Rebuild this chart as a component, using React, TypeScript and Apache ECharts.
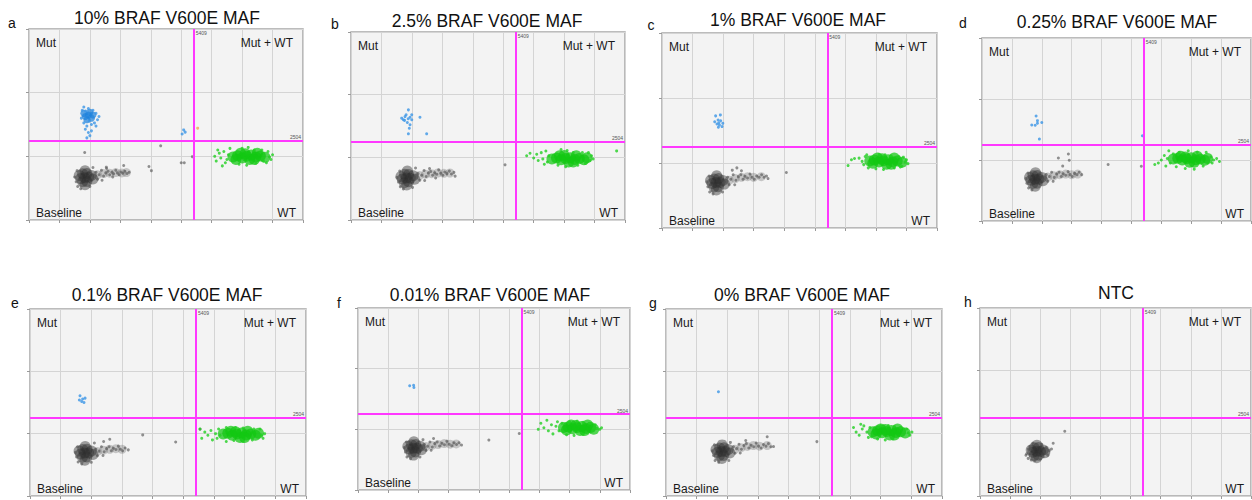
import React, { useEffect, useRef } from "react";
import * as echarts from "echarts";

// ---- axis scale ----
const X_MAX = 9000;
const X_STEP = 1000;
const Y_MAX = 6000;
const Y_STEP = 2000;
const WT_THRESHOLD = 5409; // vertical line (x)
const MUT_THRESHOLD = 2504; // horizontal line (y)

const titles = [
  "10% BRAF V600E MAF",
  "2.5% BRAF V600E MAF",
  "1% BRAF V600E MAF",
  "0.25% BRAF V600E MAF",
  "0.1% BRAF V600E MAF",
  "0.01% BRAF V600E MAF",
  "0% BRAF V600E MAF",
  "NTC",
];
const letters = ["a", "b", "c", "d", "e", "f", "g", "h"];
const quadrantLabels = ["Mut", "Mut + WT", "Baseline", "WT"];

// ---- panel a ----
const aBaseCore = [[1700,1300],[1830,1330],[1960,1340],[1760,1450],[1900,1460],[1760,1200],[1900,1210],[2050,1400],[1650,1400],[1840,1110],[1840,1550],[2100,1290]];
const aBaseTail = [[2250,1420],[2450,1460],[2650,1470],[2850,1490],[3050,1480],[3200,1490]];
const aBaseSpread = [[2200,1500],[2300,1420],[2380,1560],[2450,1380],[2520,1480],[2600,1530],[2650,1420],[2720,1500],[2780,1450],[2850,1560],[2900,1480],[2960,1420],[3020,1510],[3080,1470],[3150,1530],[3220,1460],[3290,1500],[2250,1280],[2400,1250],[1550,1200],[1600,1050],[1700,980],[1500,1350],[1580,1550],[2100,1650],[2000,1050],[2550,1620],[2750,1350],[4325,2330],[1830,2120],[3110,1710],[3940,1680],[4020,1550],[5000,1800],[5100,1800],[5365,1990],[2540,1660]];
const aWtCore = [[6700,1980],[6850,2020],[7000,1950],[7150,2000],[7300,2040],[7450,1980],[7600,2010],[7750,1970],[6950,2100],[7250,1900],[7500,2100],[7100,2080],[7400,1900],[6800,1900]];
const aWtSpread = [[6100,2000],[6150,1850],[6250,2100],[6300,1950],[6400,2150],[6450,1800],[6550,2050],[6600,2250],[6500,1900],[7900,1980],[8000,2050],[7950,1900],[7850,2150],[7800,1800],[7000,2250],[7200,2280],[7400,2200],[6900,1750],[7150,1720],[7450,1780],[7650,2200],[6350,1700],[6200,2200],[7700,1850]];
const aMutCore = [[1850,3250],[1950,3300],[2050,3200],[1900,3150],[2000,3380],[1800,3350],[2100,3300]];
const aMutSpread = [[1750,3450],[1800,3550],[1950,3500],[2100,3450],[2200,3350],[2250,3150],[2150,3050],[2050,3000],[1900,2950],[1800,3050],[1850,2850],[1950,2750],[2000,2650],[1900,2580],[2050,2800],[1720,3200],[2300,3250],[2200,2950],[1980,3100],[1860,3420],[5030,2700],[5080,2830],[5130,2760]];
const aOther = [[5540,2885]];

// ---- panel b ----
const bBaseCore = [[1690,1310],[1820,1340],[1950,1330],[1760,1460],[1890,1450],[1750,1190],[1890,1220],[2040,1410],[1640,1390],[1830,1120],[1850,1560],[2090,1300]];
const bBaseTail = [[2250,1420],[2450,1460],[2650,1480],[2850,1500],[3050,1490],[3250,1500]];
const bBaseSpread = [[2200,1480],[2320,1430],[2400,1580],[2470,1390],[2540,1500],[2620,1550],[2680,1430],[2750,1510],[2820,1460],[2880,1600],[2950,1490],[3020,1430],[3080,1530],[3150,1480],[3230,1560],[3300,1470],[3380,1520],[3420,1400],[2260,1270],[2420,1260],[1560,1210],[1620,1060],[1720,990],[1510,1360],[1600,1560],[2120,1660],[2020,1040],[2580,1640],[2780,1340],[5060,1760]];
const bWtCore = [[6600,1950],[6750,1980],[6900,1920],[7050,1960],[7200,1990],[7350,1930],[7500,1960],[7650,1920],[6850,2050],[7150,1850],[7400,2050],[7000,2060],[7300,1850],[7750,1990]];
const bWtSpread = [[5770,2050],[5880,2130],[6000,1980],[6100,2100],[6150,1900],[6250,2150],[6300,1950],[6400,2200],[6450,1850],[6500,2050],[7850,1900],[7900,2050],[7950,1950],[7800,2150],[6900,2250],[7100,2220],[7300,2150],[6800,1750],[7050,1700],[7450,1750],[7600,2150],[6350,1780],[7700,1800],[8725,2205]];
const bMutSpread = [[1885,3515],[1665,3250],[1775,3300],[1940,3280],[1995,3200],[1850,3110],[1940,3040],[1915,2930],[1885,2750],[2265,3280],[2485,2750],[1720,3200],[1810,3360],[1995,3360],[1880,3230],[1760,3180]];

// ---- panel c ----
const cBaseCore = [[1640,1370],[1770,1400],[1900,1400],[1710,1510],[1850,1520],[1700,1260],[1840,1270],[1990,1460],[1590,1460],[1780,1170],[1790,1610],[2040,1350]];
const cBaseTail = [[2200,1470],[2400,1520],[2600,1560],[2800,1580],[3000,1560],[3250,1580]];
const cBaseSpread = [[2150,1560],[2250,1500],[2330,1640],[2420,1470],[2500,1580],[2580,1640],[2650,1500],[2720,1590],[2800,1540],[2880,1660],[2950,1560],[3020,1500],[3100,1600],[3180,1560],[3260,1640],[3340,1560],[3420,1600],[3470,1520],[2200,1330],[2380,1330],[1500,1270],[1560,1110],[1670,1050],[1470,1420],[1540,1600],[2300,1780],[2450,1850],[2600,1760],[1980,1110],[4070,1710]];
const cWtCore = [[6800,2060],[6950,2090],[7100,2030],[7250,2070],[7400,2100],[7550,2040],[7700,2060],[7850,2020],[7050,2150],[7350,1960],[7600,2150],[7200,2130],[7500,1960],[6900,1990]];
const cWtSpread = [[6090,1920],[6200,2100],[6300,2140],[6450,2150],[6550,2050],[6650,2200],[6600,1950],[6700,2250],[7950,2030],[8050,1980],[8000,2100],[7900,2180],[7800,1880],[7100,2270],[7300,2250],[7500,2220],[7000,1820],[7250,1800],[7600,1850],[7750,2200],[6750,1850],[7850,1900]];
const cMutSpread = [[1755,3450],[1910,3480],[1835,3325],[1800,3200],[1880,3170],[1990,3220],[1965,3120],[1845,3100],[1725,3270],[1920,3300],[1860,3240]];

// ---- panel d ----
const dBaseCore = [[1640,1340],[1770,1370],[1900,1370],[1710,1480],[1850,1490],[1700,1230],[1840,1240],[1990,1430],[1590,1430],[1780,1140],[1790,1580],[2040,1320]];
const dBaseTail = [[2200,1440],[2400,1480],[2600,1520],[2800,1540],[3000,1520],[3200,1540]];
const dBaseSpread = [[2150,1520],[2250,1460],[2330,1600],[2420,1430],[2500,1540],[2580,1600],[2650,1460],[2720,1550],[2800,1500],[2880,1620],[2950,1520],[3020,1460],[3100,1560],[3180,1520],[3250,1600],[3335,1520],[2200,1300],[2380,1300],[1500,1240],[1560,1080],[1670,1020],[1470,1390],[1540,1570],[2555,2065],[2890,2195],[2920,1990],[2700,1800],[4220,1850],[5330,1795]];
const dWtCore = [[6400,2030],[6550,2060],[6700,2000],[6850,2040],[7000,2070],[7150,2010],[7300,2030],[7450,1990],[6650,2120],[6950,1930],[7200,2120],[6800,2100],[7100,1930],[7550,2050]];
const dWtSpread = [[5780,1850],[5900,1900],[6000,2000],[6100,2150],[6150,1800],[6200,2050],[6250,2300],[6300,1900],[7650,2100],[7750,2000],[7700,1900],[7850,2050],[7945,1950],[6600,2250],[6900,2300],[7200,2250],[6500,1780],[6800,1720],[7100,1700],[7400,1800],[7500,2250],[6400,2200]];
const dMutSpread = [[1810,3445],[1665,3150],[1780,3140],[1855,3205],[2000,3230],[1920,2685],[1855,3290],[5365,2795]];

// ---- panel e ----
const eBaseCore = [[1650,1350],[1780,1380],[1910,1380],[1720,1490],[1860,1500],[1710,1240],[1850,1250],[2000,1440],[1600,1440],[1790,1150],[1800,1590],[2050,1330]];
const eBaseTail = [[2200,1430],[2400,1470],[2600,1500],[2800,1520],[3000,1500]];
const eBaseSpread = [[2150,1500],[2250,1440],[2330,1580],[2420,1420],[2500,1520],[2580,1580],[2650,1450],[2720,1530],[2800,1490],[2880,1600],[2950,1500],[3020,1450],[3100,1540],[3205,1480],[2200,1290],[2380,1300],[1520,1250],[1570,1090],[1690,1030],[1480,1400],[1550,1580],[2100,1700],[2400,1750],[2600,1820],[2000,1080],[3675,1960],[4750,1735],[5545,2145]];
const eWtCore = [[6300,1990],[6450,2010],[6600,1950],[6750,1990],[6900,2020],[7050,1960],[7200,1990],[7350,1950],[6550,2080],[6850,1880],[7100,2080],[6700,2060],[7000,1880],[7450,2010]];
const eWtSpread = [[5545,2150],[5600,1850],[5700,2050],[5800,1950],[5900,2100],[5950,1800],[6050,2000],[6150,2150],[6100,1850],[7550,1950],[7650,2000],[7600,1850],[7500,2150],[6400,2200],[6700,2200],[6950,2180],[6400,1750],[6650,1780],[6950,1750],[7250,1800],[7300,2150],[6200,1950]];
const eMutSpread = [[1630,3215],[1717,3110],[1760,3000],[1685,3030],[1795,3140],[1610,3080]];

// ---- panel f ----
const fBaseCore = [[1700,1350],[1830,1380],[1960,1380],[1770,1490],[1910,1500],[1760,1240],[1900,1250],[2050,1440],[1650,1440],[1840,1150],[1850,1590],[2100,1330]];
const fBaseTail = [[2250,1430],[2450,1470],[2650,1500],[2850,1530],[3050,1510],[3250,1520]];
const fBaseSpread = [[2200,1500],[2300,1440],[2380,1580],[2460,1420],[2540,1530],[2620,1580],[2700,1450],[2780,1540],[2860,1490],[2940,1610],[3020,1510],[3100,1460],[3180,1560],[3260,1500],[3340,1560],[3425,1480],[2250,1300],[2420,1310],[1570,1250],[1620,1090],[1740,1030],[1530,1400],[1600,1580],[2150,1660],[2500,1700],[2050,1090],[4330,1645],[5335,1865]];
const fWtCore = [[6800,2060],[6950,2080],[7100,2020],[7250,2060],[7400,2090],[7550,2030],[7700,2060],[7800,2000],[7050,2140],[7350,1960],[7600,2140],[7200,2130],[7500,1960],[6900,1980]];
const fWtSpread = [[5965,2000],[6050,2200],[6150,2050],[6250,2300],[6300,1950],[6400,2150],[6450,1850],[6550,2100],[6600,2250],[6650,1950],[7900,2030],[8000,2000],[8060,2050],[7850,2150],[7000,2250],[7250,2270],[7450,2230],[6900,1820],[7150,1800],[7450,1830],[7650,2200],[6750,2200]];
const fMutSpread = [[1710,3435],[1840,3455],[1850,3380]];

// ---- panel g ----
const gBaseCore = [[1680,1400],[1810,1430],[1940,1430],[1750,1540],[1890,1550],[1740,1290],[1880,1300],[2030,1490],[1630,1490],[1820,1200],[1830,1640],[2080,1380]];
const gBaseTail = [[2250,1500],[2450,1550],[2650,1590],[2850,1620],[3050,1600],[3300,1620]];
const gBaseSpread = [[2200,1580],[2300,1520],[2380,1660],[2460,1500],[2540,1620],[2620,1680],[2700,1540],[2780,1630],[2860,1580],[2940,1700],[3020,1600],[3100,1540],[3180,1650],[3260,1600],[3340,1680],[3420,1580],[3505,1585],[2250,1370],[2420,1380],[1550,1300],[1600,1140],[1720,1080],[1510,1450],[1580,1640],[2100,1720],[2600,1780],[2050,1140],[3300,1900],[4920,1745]];
const gWtCore = [[6750,2060],[6900,2090],[7050,2030],[7200,2070],[7350,2100],[7500,2040],[7650,2060],[7800,2020],[7000,2150],[7300,1960],[7550,2150],[7150,2130],[7450,1960],[6850,1990]];
const gWtSpread = [[6115,2200],[6200,2050],[6300,1950],[6400,2150],[6450,2250],[6550,2050],[6600,1880],[6650,2200],[7900,2030],[8020,2050],[7950,1950],[7850,2150],[7000,2250],[7250,2260],[7450,2230],[6900,1830],[7150,1800],[7400,1830],[7650,2200],[6700,1900],[6350,2300]];
const gMutSpread = [[1710,3345]];

// ---- panel h (NTC) ----
const hBaseCore = [[1750,1400],[1880,1430],[2010,1420],[1800,1540],[1940,1550],[1800,1290],[1940,1300],[2100,1470],[1700,1470],[1880,1220],[1890,1620],[2150,1380]];
const hBaseTail = [[2200,1450]];
const hBaseSpread = [[1550,1350],[1600,1200],[1650,1580],[1700,1150],[2200,1550],[2250,1300],[2300,1450],[2375,1500],[2050,1650],[2100,1250],[1600,1500],[1750,1680],[1820,1130],[2000,1180],[2430,1685],[2815,2065],[1525,1300]];

const panelData = [
  { baseCore: aBaseCore, baseTail: aBaseTail, baseSpread: aBaseSpread, wtCore: aWtCore, wtSpread: aWtSpread, mutCore: aMutCore, mutSpread: aMutSpread, other: aOther },
  { baseCore: bBaseCore, baseTail: bBaseTail, baseSpread: bBaseSpread, wtCore: bWtCore, wtSpread: bWtSpread, mutCore: [], mutSpread: bMutSpread, other: [] },
  { baseCore: cBaseCore, baseTail: cBaseTail, baseSpread: cBaseSpread, wtCore: cWtCore, wtSpread: cWtSpread, mutCore: [], mutSpread: cMutSpread, other: [] },
  { baseCore: dBaseCore, baseTail: dBaseTail, baseSpread: dBaseSpread, wtCore: dWtCore, wtSpread: dWtSpread, mutCore: [], mutSpread: dMutSpread, other: [] },
  { baseCore: eBaseCore, baseTail: eBaseTail, baseSpread: eBaseSpread, wtCore: eWtCore, wtSpread: eWtSpread, mutCore: [], mutSpread: eMutSpread, other: [] },
  { baseCore: fBaseCore, baseTail: fBaseTail, baseSpread: fBaseSpread, wtCore: fWtCore, wtSpread: fWtSpread, mutCore: [], mutSpread: fMutSpread, other: [] },
  { baseCore: gBaseCore, baseTail: gBaseTail, baseSpread: gBaseSpread, wtCore: gWtCore, wtSpread: gWtSpread, mutCore: [], mutSpread: gMutSpread, other: [] },
  { baseCore: hBaseCore, baseTail: hBaseTail, baseSpread: hBaseSpread, wtCore: [], wtSpread: [], mutCore: [], mutSpread: [], other: [] },
];

// ---- layout (pixels) ----
const layout = [
  { left: 29, top: 29, width: 274, height: 191, tx: 167, ty: 18, lx: 12, ly: 23 },
  { left: 351, top: 32, width: 274, height: 188, tx: 487, ty: 21, lx: 335, ly: 24 },
  { left: 662, top: 33, width: 275, height: 195, tx: 798, ty: 20, lx: 651, ly: 25 },
  { left: 982, top: 38, width: 269, height: 183, tx: 1117, ty: 22, lx: 963, ly: 23 },
  { left: 30, top: 309, width: 276, height: 187, tx: 167, ty: 295, lx: 15, ly: 303 },
  { left: 358, top: 308, width: 272, height: 182, tx: 490, ty: 295, lx: 339, ly: 303 },
  { left: 666, top: 309, width: 276, height: 187, tx: 802, ty: 295, lx: 653, ly: 303 },
  { left: 980, top: 308, width: 271, height: 188, tx: 1116, ty: 293, lx: 968, ly: 302 },
];

const FONT = "Liberation Sans, Arial, sans-serif";

export default function App() {
  const ref = useRef<HTMLDivElement>(null);
  useEffect(() => {
    if (!ref.current) return;
    const chart = echarts.init(ref.current, null, { renderer: "svg" });
    const grids: any[] = [];
    const xAxes: any[] = [];
    const yAxes: any[] = [];
    const series: any[] = [];
    layout.forEach((g, i) => {
      grids.push({
        left: g.left, top: g.top, width: g.width, height: g.height,
        show: true, backgroundColor: "#f3f3f3", borderColor: "#a6a6a6", borderWidth: 1.5,
      });
      const axisCommon = {
        gridIndex: i,
        type: "value",
        axisLine: { show: false },
        axisLabel: { show: false },
        axisTick: { show: true, length: 3, lineStyle: { color: "#9a9a9a", width: 1 } },
        splitLine: { show: true, lineStyle: { color: "#d4d4d4", width: 1 } },
      };
      xAxes.push({ ...axisCommon, min: 0, max: X_MAX, interval: X_STEP });
      yAxes.push({ ...axisCommon, min: 0, max: Y_MAX, interval: Y_STEP });
      const d = panelData[i];
      const base = { type: "scatter", xAxisIndex: i, yAxisIndex: i, silent: true };
      series.push({ ...base, name: `baselineTail${i}`, data: d.baseTail, symbolSize: 9, itemStyle: { color: "rgba(95,95,95,0.38)" }, z: 2 });
      series.push({ ...base, name: `baselineCore${i}`, data: d.baseCore, symbolSize: 11, itemStyle: { color: "rgba(45,45,45,0.55)" }, z: 2 });
      series.push({ ...base, name: `baseline${i}`, data: d.baseSpread, symbolSize: 3, itemStyle: { color: "rgba(85,85,85,0.8)" }, z: 2 });
      series.push({ ...base, name: `wtCore${i}`, data: d.wtCore, symbolSize: 11, itemStyle: { color: "rgba(18,200,18,0.9)" }, z: 2 });
      series.push({ ...base, name: `wt${i}`, data: d.wtSpread, symbolSize: 3, itemStyle: { color: "#22d022" }, z: 2 });
      series.push({ ...base, name: `mutCore${i}`, data: d.mutCore, symbolSize: 7, itemStyle: { color: "rgba(30,130,220,0.9)" }, z: 2 });
      series.push({ ...base, name: `mut${i}`, data: d.mutSpread, symbolSize: 3, itemStyle: { color: "#3a95e6" }, z: 2 });
      series.push({ ...base, name: `other${i}`, data: d.other, symbolSize: 3, itemStyle: { color: "#f2a35e" }, z: 2 });
      series.push({
        ...base, name: `threshold${i}`, data: [], z: 5,
        markLine: {
          silent: true, symbol: "none", animation: false,
          label: { show: false },
          lineStyle: { color: "#ff38ff", width: 2, type: "solid" },
          data: [{ xAxis: WT_THRESHOLD }, { yAxis: MUT_THRESHOLD }],
        },
      });
    });
    chart.setOption({
      animation: false,
      backgroundColor: "#ffffff",
      grid: grids,
      xAxis: xAxes,
      yAxis: yAxes,
      series,
    });

    const graphic: any[] = [];
    layout.forEach((g, i) => {
      graphic.push({ type: "text", x: g.tx, y: g.ty, style: { text: titles[i], font: `17.5px ${FONT}`, fill: "#111", align: "center", verticalAlign: "middle" } });
      graphic.push({ type: "text", x: g.lx, y: g.ly, style: { text: letters[i], font: `14px ${FONT}`, fill: "#111", align: "center", verticalAlign: "middle" } });
      const qs = { font: `12px ${FONT}`, fill: "#1a1a1a", verticalAlign: "middle" };
      graphic.push({ type: "text", x: g.left + 7, y: g.top + 14, style: { ...qs, text: quadrantLabels[0], align: "left" } });
      graphic.push({ type: "text", x: g.left + g.width - 10, y: g.top + 14, style: { ...qs, text: quadrantLabels[1], align: "right" } });
      graphic.push({ type: "text", x: g.left + 7, y: g.top + g.height - 7, style: { ...qs, text: quadrantLabels[2], align: "left" } });
      graphic.push({ type: "text", x: g.left + g.width - 7, y: g.top + g.height - 7, style: { ...qs, text: quadrantLabels[3], align: "right" } });
      const vTop = chart.convertToPixel({ gridIndex: i }, [WT_THRESHOLD, Y_MAX]) as number[];
      const hEnd = chart.convertToPixel({ gridIndex: i }, [X_MAX, MUT_THRESHOLD]) as number[];
      if (vTop) graphic.push({ type: "text", x: vTop[0] + 2, y: vTop[1] + 1, z: 10, style: { text: String(WT_THRESHOLD), font: `5px ${FONT}`, fill: "#555", align: "left", verticalAlign: "top" } });
      if (hEnd) graphic.push({ type: "text", x: hEnd[0] - 2, y: hEnd[1] - 1, z: 10, style: { text: String(MUT_THRESHOLD), font: `5px ${FONT}`, fill: "#555", align: "right", verticalAlign: "bottom" } });
    });
    chart.setOption({ graphic });
    return () => chart.dispose();
  }, []);
  return (
    <div
      ref={ref}
      style={{ position: "absolute", left: 0, top: 0, width: 1252, height: 500, background: "#fff" }}
    />
  );
}
